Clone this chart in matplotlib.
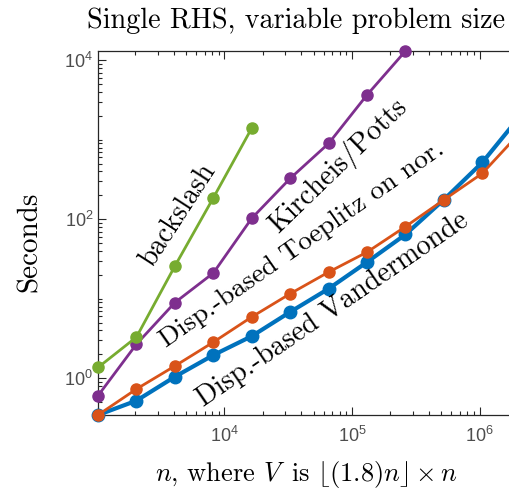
import numpy as np
import matplotlib
matplotlib.use("Agg")
import matplotlib.pyplot as plt
from matplotlib.ticker import FixedLocator, LogLocator, NullFormatter

plt.rcParams['font.family'] = 'serif'
plt.rcParams['font.serif'] = ['cmr10']
plt.rcParams['mathtext.fontset'] = 'cm'
plt.rcParams['axes.unicode_minus'] = False
plt.rcParams['axes.formatter.use_mathtext'] = True

# data
n_vals = [2**k for k in range(10, 22)]
vandermonde = [0.346, 0.524, 1.047, 1.96, 3.39, 6.84, 13.4, 29.0, 64.5, 177, 520, 2040]
toeplitz = [0.346, 0.734, 1.43, 2.85, 5.92, 11.6, 21.7, 38.7, 81, 176, 379, 1260]
kircheis = [0.605, 2.69, 8.97, 21.1, 103, 327, 900, 3672, 13090]
backslash = [1.37, 3.3, 25.8, 186, 1403]

xticks = [1e4, 1e5, 1e6]
xtick_labels = [r'$\mathregular{10^{4}}$', r'$\mathregular{10^{5}}$', r'$\mathregular{10^{6}}$']
yticks = [1e0, 1e2, 1e4]
ytick_labels = [r'$\mathregular{10^{0}}$', r'$\mathregular{10^{2}}$', r'$\mathregular{10^{4}}$']

c_blue = '#0072BD'
c_orange = '#D95319'
c_purple = '#7E2F8E'
c_green = '#77AC30'

fig = plt.figure(figsize=(5.1, 4.92), dpi=100)
ax = fig.add_axes([98/510, 77/492, (520.8-98)/510, (415-51)/492])

ax.plot(n_vals, vandermonde, '-o', color=c_blue, lw=3.0, ms=9, clip_on=False, zorder=3)
ax.plot(n_vals, toeplitz, '-o', color=c_orange, lw=2.0, ms=8, clip_on=False, zorder=4)
ax.plot(n_vals[:len(kircheis)], kircheis, '-o', color=c_purple, lw=2.0, ms=8, clip_on=False, zorder=4)
ax.plot(n_vals[:len(backslash)], backslash, '-o', color=c_green, lw=2.0, ms=8, clip_on=False, zorder=4)

ax.set_xscale('log')
ax.set_yscale('log')
ax.set_xlim(n_vals[0], n_vals[-1])
ax.set_ylim(min(vandermonde), max(kircheis))

ax.xaxis.set_major_locator(FixedLocator(xticks))
ax.set_xticklabels(xtick_labels)
ax.yaxis.set_major_locator(FixedLocator(yticks))
ax.set_yticklabels(ytick_labels)
ax.xaxis.set_minor_locator(LogLocator(base=10, subs=np.arange(2, 10), numticks=20))
ax.yaxis.set_minor_locator(LogLocator(base=10, subs=np.arange(1, 10), numticks=20))
ax.xaxis.set_minor_formatter(NullFormatter())
ax.yaxis.set_minor_formatter(NullFormatter())

ax.tick_params(which='both', direction='in', top=True, right=True, color='#262626',
               labelcolor='#4d4d4d', labelsize=13, width=0.8)
ax.tick_params(which='major', length=6)
ax.tick_params(which='minor', length=3)
ax.tick_params(axis='x', pad=8)
for lab in ax.get_xticklabels() + ax.get_yticklabels():
    lab.set_family('Liberation Sans')
for s in ax.spines.values():
    s.set_color('#262626')
    s.set_linewidth(0.9)

def fx(px):
    return px / 510
def fy(py):
    return 1 - py / 492

fig.text(fx(307), fy(474), r'$n$, where $V\,$ is $\lfloor(1.8)n\rfloor\times n$', fontsize=19,
         ha='center', va='center')
fig.text(fx(30), fy(242), 'Seconds', fontsize=21, rotation=90, ha='center', va='center')
fig.text(fx(296), fy(21), 'Single RHS, variable problem size', fontsize=20.3,
         ha='center', va='center')

fig.text(fx(178), fy(215), 'backslash', fontsize=20.3, rotation=57, ha='center', va='center',
         rotation_mode='anchor')
fig.text(fx(338), fy(166), 'Kircheis/Potts', fontsize=20.3, rotation=44, ha='center', va='center',
         rotation_mode='anchor')
fig.text(fx(302), fy(244), 'Disp.-based Toeplitz on nor.', fontsize=19.8, rotation=35, ha='center',
         va='center', rotation_mode='anchor')
fig.text(fx(333), fy(310), 'Disp.-based Vandermonde', fontsize=20.3, rotation=34.5, ha='center',
         va='center', rotation_mode='anchor')

fig.savefig('out.png', dpi=100)
